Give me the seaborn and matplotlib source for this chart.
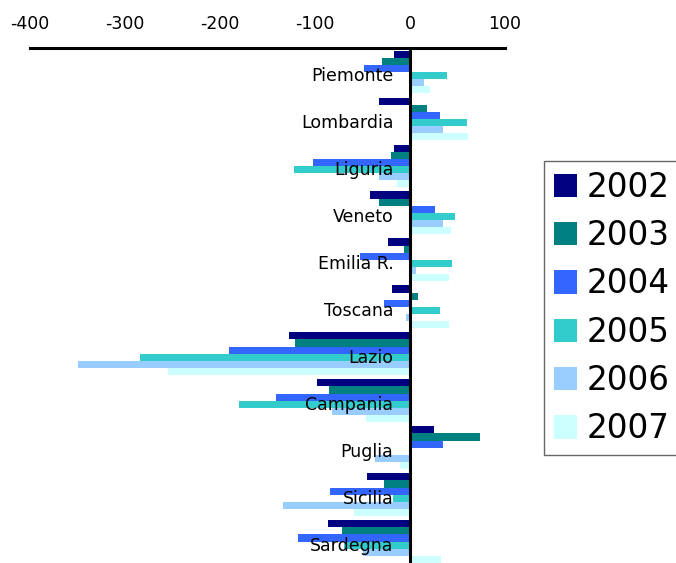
import pandas as pd
import matplotlib.pyplot as plt
import seaborn as sns

regions = ['Piemonte', 'Lombardia', 'Liguria', 'Veneto', 'Emilia R.', 'Toscana',
           'Lazio', 'Campania', 'Puglia', 'Sicilia', 'Sardegna']
years = ['2002', '2003', '2004', '2005', '2006', '2007']
v2002 = [-17, -33, -17, -42, -23, -19, -127, -98, 25, -45, -86]
v2003 = [-30, 18, -20, -33, -6, 8, -121, -85, 74, -27, -72]
v2004 = [-48, 32, -102, 26, -53, -27, -191, -141, 35, -84, -118]
v2005 = [39, 60, -122, 47, 44, 32, -284, -180, 0, -18, -70]
v2006 = [15, 35, -33, 35, 6, -4, -350, -82, -37, -134, -50]
v2007 = [21, 61, -14, 43, 41, 41, -255, -46, -11, -59, 33]
colors = ['#000080', '#008080', '#3366FF', '#33CCCC', '#99CCFF', '#CCFFFF']

rows = []
for yr, vals in zip(years, [v2002, v2003, v2004, v2005, v2006, v2007]):
    for reg, v in zip(regions, vals):
        rows.append({'Regione': reg, 'Anno': yr, 'Valore': v})
df = pd.DataFrame(rows)

sns.set_style('white')
plt.rcParams['font.family'] = ['DejaVu Sans']
plt.rcParams['axes.unicode_minus'] = False
plt.rcParams['text.color'] = 'black'
plt.rcParams['xtick.color'] = 'black'

fig = plt.figure(figsize=(6.76, 5.63), dpi=100)
ax = fig.add_axes([0.0444, -0.0036, 0.7027, 0.918])

sns.barplot(data=df, x='Valore', y='Regione', hue='Anno', order=regions,
            hue_order=years, palette=colors, saturation=1, orient='h',
            width=0.9, linewidth=0, ax=ax)

ax.set_xlim(-400, 100)
ax.set_ylim(len(regions) - 0.5, -0.5)
ax.set_xticks([-400, -300, -200, -100, 0, 100])
ax.xaxis.set_ticks_position('top')
ax.tick_params(axis='x', length=0, pad=11, labelsize=12.5, labeltop=True,
               labelbottom=False, labelcolor='black')
ax.set_yticks([])
ax.set_xlabel('')
ax.set_ylabel('')
for s in ['left', 'right', 'bottom']:
    ax.spines[s].set_visible(False)
ax.spines['top'].set_linewidth(2.2)
ax.spines['top'].set_color('black')
ax.axvline(0, color='black', lw=2.2, zorder=5)

# region names sit just left of the zero line
for i, reg in enumerate(regions):
    ax.annotate(reg, xy=(0, i), xytext=(-12, -3), textcoords='offset points',
                ha='right', va='center', fontsize=12.5, color='black', zorder=6)

handles, labels = ax.get_legend_handles_labels()
ax.legend(handles, labels, loc='upper left', bbox_to_anchor=(544 / 676, 1 - 161 / 563),
          bbox_transform=fig.transFigure, fontsize=23.5, frameon=True, fancybox=False,
          edgecolor='#404040', handlelength=0.72, handleheight=0.72,
          handletextpad=0.3, labelspacing=0.47, borderpad=0.3, borderaxespad=0)
ax.get_legend().get_frame().set_linewidth(1)

plt.savefig('out.png', dpi=100)
